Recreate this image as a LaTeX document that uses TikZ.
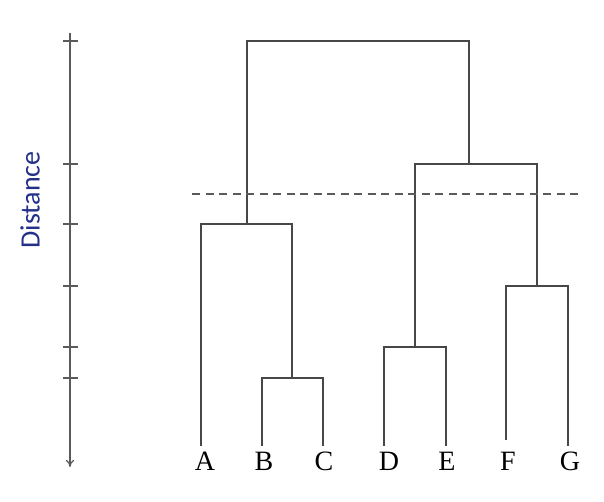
\documentclass[tikz,border=0pt]{standalone}
\usepackage{fontspec}
\setmainfont{Liberation Serif}
\newfontfamily\labelfont{Carlito}
\usetikzlibrary{arrows.meta}
\definecolor{navy}{HTML}{22308A}
\definecolor{linkgray}{HTML}{474747}
\definecolor{axisgray}{HTML}{5A5A5A}

\begin{document}
\begin{tikzpicture}[
  x=1pt,y=-1pt,
  link/.style={draw=linkgray,line width=1.2pt},
  cutline/.style={draw=axisgray,line width=1.3pt,dash pattern=on 8pt off 5.5pt},
  axis/.style={draw=axisgray,line width=1.2pt,-{To[length=7pt,width=8pt]}},
  tickmark/.style={draw=axisgray,line width=1.2pt},
  leaf/.style={font=\fontsize{28}{28}\selectfont,anchor=base,inner sep=0pt}
]
\useasboundingbox (0,0) rectangle (604,501);

% distance axis
\coordinate (atop) at (70,33);
\coordinate (abot) at (70,467);
\draw[axis] (atop) -- (abot);
\foreach \ty in {41,164,224,286,347,378}
  \draw[tickmark] (63,\ty) -- (78,\ty);
\node[rotate=90,text=navy,font=\labelfont\fontsize{28}{28}\selectfont] (dist) at (30,200) {Distance};

% leaves
\node[leaf] (A) at (205,470) {A};
\node[leaf] (B) at (264,470) {B};
\node[leaf] (C) at (324,470) {C};
\node[leaf] (D) at (389,470) {D};
\node[leaf] (E) at (447,470) {E};
\node[leaf] (F) at (508,470) {F};
\node[leaf] (G) at (570,470) {G};

\coordinate (lA) at (201,446);
\coordinate (lB) at (262,446);
\coordinate (lC) at (323,446);
\coordinate (lD) at (384,446);
\coordinate (lE) at (446,446);
\coordinate (lF) at (506,440);
\coordinate (lG) at (568,446);

% merge points
\coordinate (mBC) at (292,378);
\coordinate (mABC) at (247,224);
\coordinate (mDE) at (415,347);
\coordinate (mFG) at (537,286);
\coordinate (mDG) at (469,164);
\coordinate (root) at (358,41);

\draw[link] (lB) |- (mBC) -| (lC);
\draw[link] (lA) |- (mABC) -| (mBC);
\draw[link] (lD) |- (mDE) -| (lE);
\draw[link] (lF) |- (mFG) -| (lG);
\draw[link] (mDE) |- (mDG) -| (mFG);
\draw[link] (mABC) |- (root) -| (mDG);

% cut level
\coordinate (cutL) at (192,194);
\coordinate (cutR) at (583,194);
\draw[cutline] (cutL) -- (cutR);
\end{tikzpicture}
\end{document}
